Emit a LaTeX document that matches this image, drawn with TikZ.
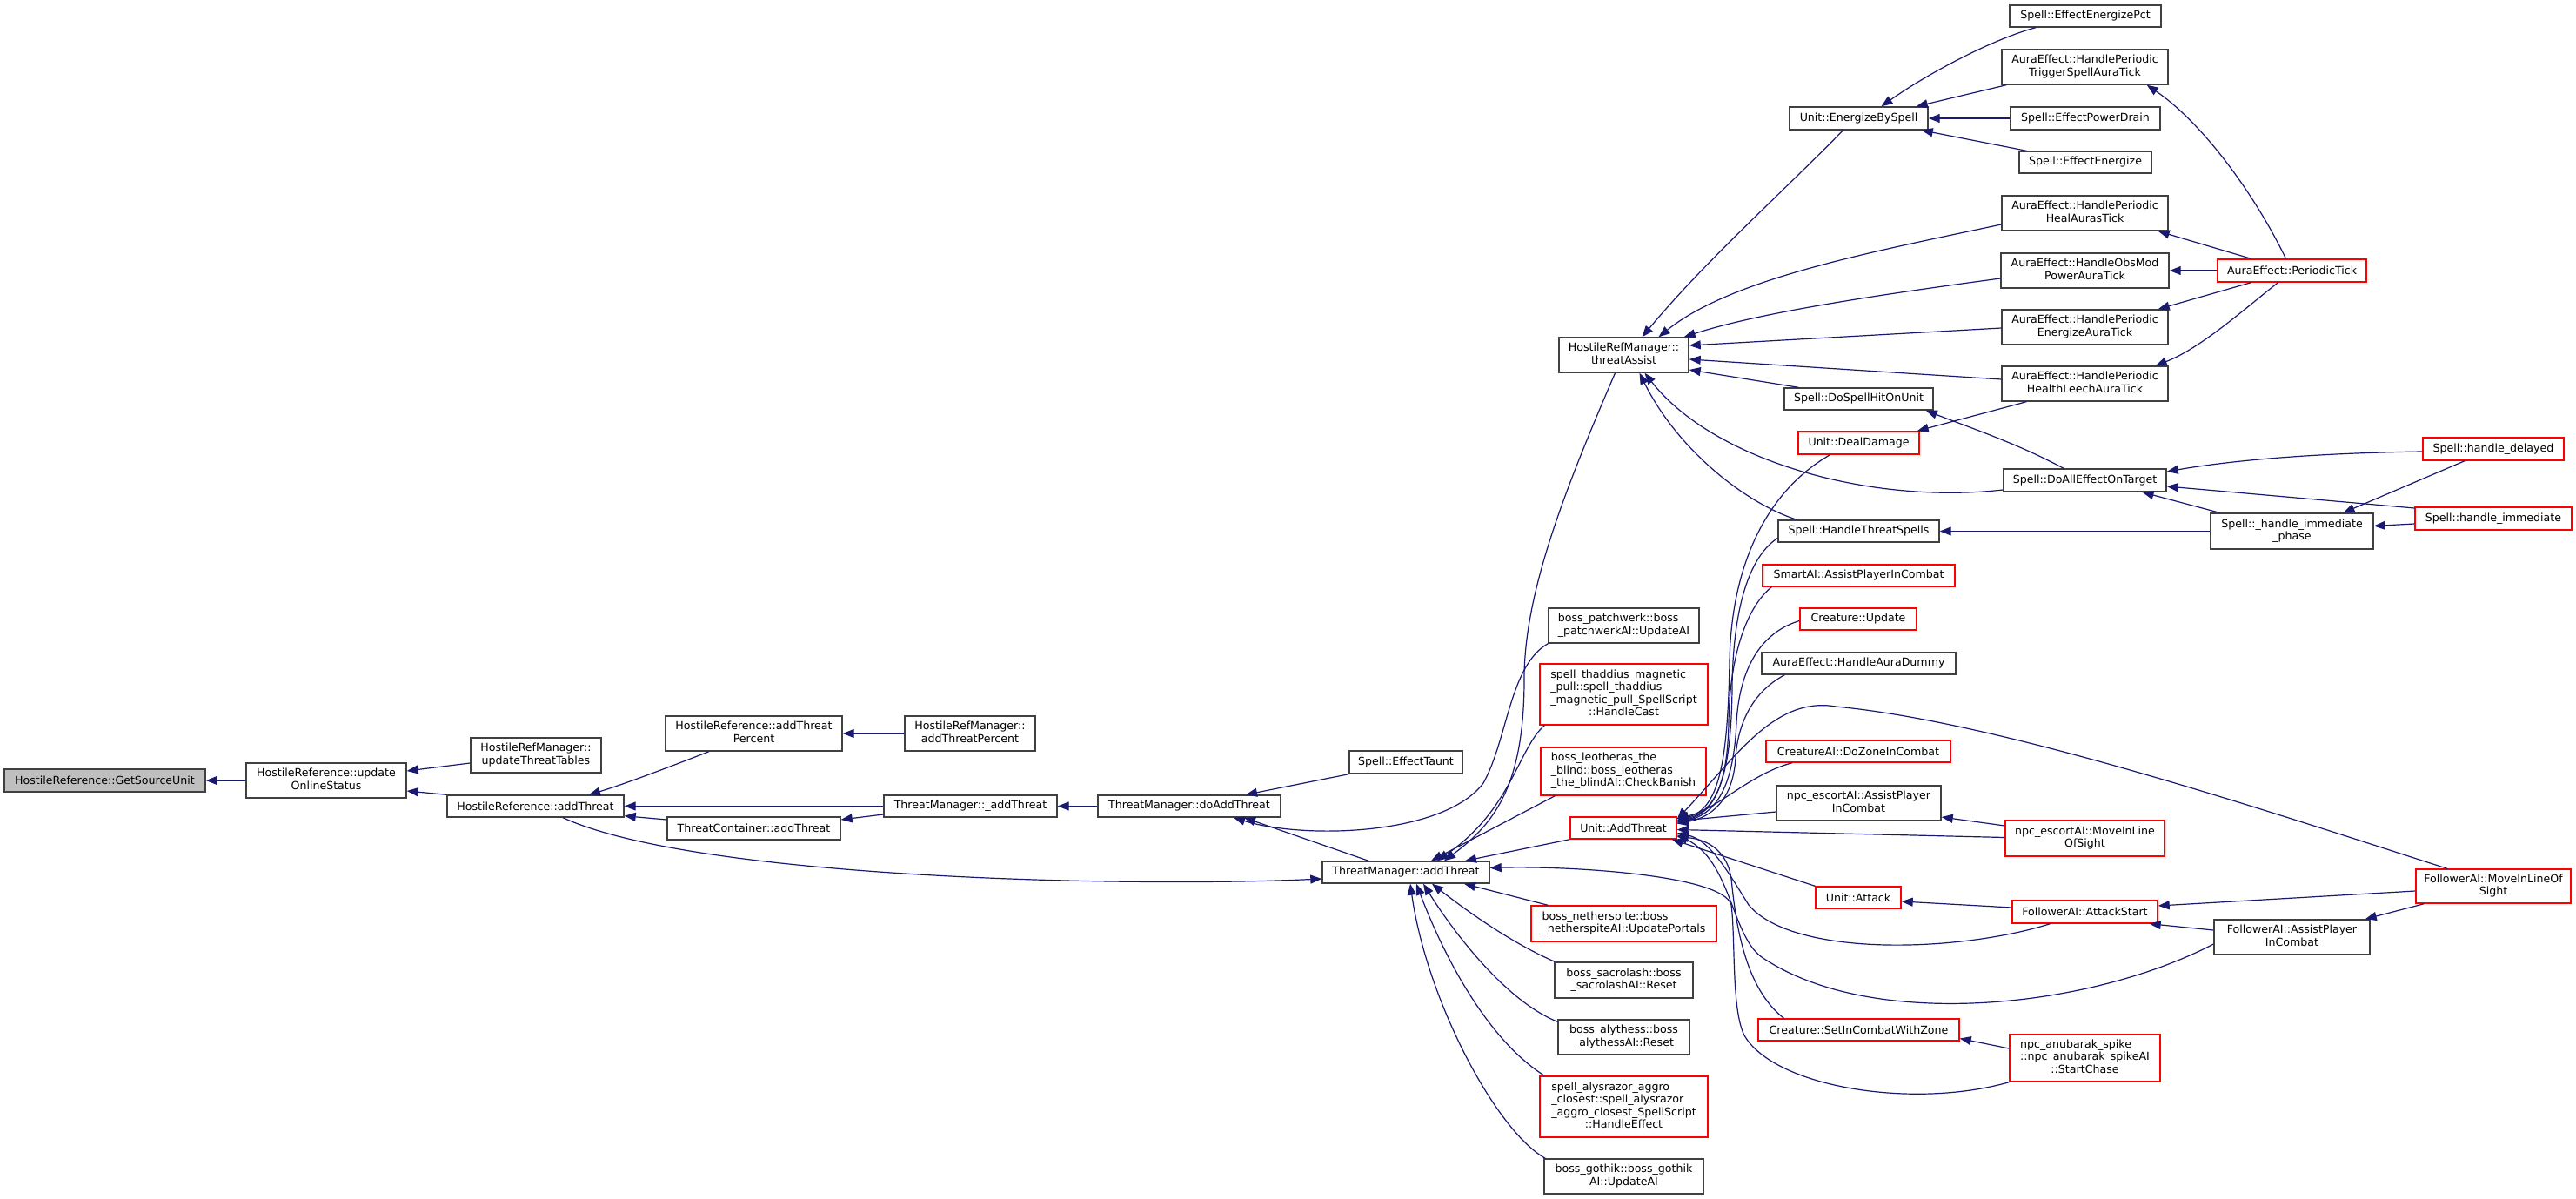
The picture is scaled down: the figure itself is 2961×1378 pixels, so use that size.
\documentclass[tikz,border=0pt]{standalone}
\usepackage{fontspec}
\setmainfont{DejaVu Sans}
\usetikzlibrary{arrows.meta}
\definecolor{edgec}{HTML}{191970}
\definecolor{bordc}{HTML}{404040}
\definecolor{gsufill}{HTML}{BFBFBF}
\newcommand\ml[2]{\begin{tabular}{@{}l@{}}#1\\\multicolumn{1}{@{}c@{}}{#2}\end{tabular}}
\begin{document}
\begin{tikzpicture}[x=1pt,y=-1pt,
 bx/.style={draw=bordc, line width=1.4pt, inner sep=0pt, font=\fontsize{12.6}{14.5}\selectfont},
 rx/.style={bx, draw=red},
 sz/.style 2 args={minimum width=#1pt, minimum height=#2pt},
 edge/.style={draw=edgec, line width=1.2pt, -{Triangle[length=13pt,width=10pt]}}]
\fill[white] (0,0) rectangle (2961,1378);
\useasboundingbox (0,0) rectangle (2961,1378);
% left part
\node[bx, fill=gsufill, sz={231}{26}] (gsu) at (120.5,897) {HostileReference::GetSourceUnit};
\node[bx, sz={184}{40}] (uos) at (375,897) {\ml{HostileReference::update}{OnlineStatus}};
\node[bx, sz={150}{40}] (utt) at (616,868) {\ml{HostileRefManager::}{updateThreatTables}};
\node[bx, sz={203}{25}] (hrat) at (615.5,926.5) {HostileReference::addThreat};
\node[bx, sz={203}{40}] (hratp) at (866.5,843) {\ml{HostileReference::addThreat}{Percent}};
\node[bx, sz={199}{26}] (tcat) at (866.5,952) {ThreatContainer::addThreat};
\node[bx, sz={150}{40}] (hrmatp) at (1115,843) {\ml{HostileRefManager::}{addThreatPercent}};
\node[bx, sz={199}{25}] (tmu) at (1115.5,926.5) {ThreatManager::\_addThreat};
\node[bx, sz={210}{25}] (tmdo) at (1367,926.5) {ThreatManager::doAddThreat};
\node[bx, sz={192}{25}] (tmat) at (1616,1002.5) {ThreatManager::addThreat};
\node[bx, sz={130}{26}] (taunt) at (1616,876) {Spell::EffectTaunt};
% middle column
\node[bx, sz={149}{40}] (ta) at (1866.5,408) {\ml{HostileRefManager::}{threatAssist}};
\node[bx, sz={173}{40}] (patch) at (1866.5,719) {\ml{boss\_patchwerk::boss}{\_patchwerkAI::UpdateAI}};
\node[rx, sz={193}{70}] (thad) at (1866.5,798) {\ml{spell\_thaddius\_magnetic\\\_pull::spell\_thaddius\\\_magnetic\_pull\_SpellScript}{::HandleCast}};
\node[rx, sz={190}{55}] (leo) at (1866,886.5) {\ml{boss\_leotheras\_the\\\_blind::boss\_leotheras}{\_the\_blindAI::CheckBanish}};
\node[rx, sz={122}{25}] (uat) at (1866,951.5) {Unit::AddThreat};
\node[rx, sz={213}{41}] (neth) at (1866.5,1061.5) {\ml{boss\_netherspite::boss}{\_netherspiteAI::UpdatePortals}};
\node[bx, sz={159}{41}] (sacro) at (1866.5,1126.5) {\ml{boss\_sacrolash::boss}{\_sacrolashAI::Reset}};
\node[bx, sz={151}{40}] (aly) at (1866.5,1192) {\ml{boss\_alythess::boss}{\_alythessAI::Reset}};
\node[rx, sz={193}{70}] (alys) at (1866.5,1272) {\ml{spell\_alysrazor\_aggro\\\_closest::spell\_alysrazor\\\_aggro\_closest\_SpellScript}{::HandleEffect}};
\node[bx, sz={183}{40}] (goth) at (1866.5,1352) {\ml{boss\_gothik::boss\_gothik}{AI::UpdateAI}};
% right part
\node[bx, sz={159}{26}] (eb) at (2136.5,136) {Unit::EnergizeBySpell};
\node[bx, sz={174}{25}] (eep) at (2397,18.5) {Spell::EffectEnergizePct};
\node[bx, sz={191}{40}] (trig) at (2396.5,77) {\ml{AuraEffect::HandlePeriodic}{TriggerSpellAuraTick}};
\node[bx, sz={172}{26}] (epd) at (2397,136) {Spell::EffectPowerDrain};
\node[bx, sz={152}{25}] (ee) at (2397,186.5) {Spell::EffectEnergize};
\node[bx, sz={191}{40}] (heal) at (2396.5,245) {\ml{AuraEffect::HandlePeriodic}{HealAurasTick}};
\node[bx, sz={193}{40}] (obs) at (2396.5,311) {\ml{AuraEffect::HandleObsMod}{PowerAuraTick}};
\node[bx, sz={191}{40}] (ener) at (2396.5,376) {\ml{AuraEffect::HandlePeriodic}{EnergizeAuraTick}};
\node[bx, sz={191}{40}] (leech) at (2396.5,441) {\ml{AuraEffect::HandlePeriodic}{HealthLeechAuraTick}};
\node[bx, sz={171}{25}] (hit) at (2136.5,458.5) {Spell::DoSpellHitOnUnit};
\node[rx, sz={139}{26}] (dd) at (2136.5,509) {Unit::DealDamage};
\node[bx, sz={187}{26}] (doall) at (2396.5,552) {Spell::DoAllEffectOnTarget};
\node[bx, sz={185}{25}] (hts) at (2136.5,610.5) {Spell::HandleThreatSpells};
\node[rx, sz={221}{25}] (smart) at (2136.5,661.5) {SmartAI::AssistPlayerInCombat};
\node[rx, sz={134}{25}] (cupd) at (2136,711.5) {Creature::Update};
\node[bx, sz={223}{25}] (dummy) at (2136.5,762.5) {AuraEffect::HandleAuraDummy};
\node[rx, sz={212}{25}] (dzic) at (2136,863.5) {CreatureAI::DoZoneInCombat};
\node[bx, sz={189}{40}] (escap) at (2136.5,923) {\ml{npc\_escortAI::AssistPlayer}{InCombat}};
\node[rx, sz={183}{41}] (esmlos) at (2396.5,963.5) {\ml{npc\_escortAI::MoveInLine}{OfSight}};
\node[rx, sz={98}{25}] (attack) at (2136,1031.5) {Unit::Attack};
\node[rx, sz={167}{26}] (fas) at (2396.5,1048) {FollowerAI::AttackStart};
\node[rx, sz={231}{25}] (sicz) at (2136.5,1183.5) {Creature::SetInCombatWithZone};
\node[rx, sz={173}{54}] (anub) at (2396.5,1216) {\ml{npc\_anubarak\_spike\\::npc\_anubarak\_spikeAI}{::StartChase}};
\node[rx, sz={171}{26}] (ptick) at (2634.5,311) {AuraEffect::PeriodicTick};
\node[bx, sz={187}{41}] (hiph) at (2634.5,610.5) {\ml{Spell::\_handle\_immediate}{\_phase}};
\node[bx, sz={179}{40}] (fapic) at (2634.5,1077) {\ml{FollowerAI::AssistPlayer}{InCombat}};
\node[rx, sz={162}{26}] (hdel) at (2866,516) {Spell::handle\_delayed};
\node[rx, sz={180}{26}] (himm) at (2866,596) {Spell::handle\_immediate};
\node[rx, sz={178}{39}] (fmlos) at (2866,1018.5) {\ml{FollowerAI::MoveInLineOf}{Sight}};
% edges, left part
\draw[edge] (uos.west) -- (gsu.east);
\draw[edge] ([yshift=-9pt]utt.west) -- ([yshift=11pt]uos.east);
\draw[edge] (hrat.north west) -- ([yshift=-12pt]uos.east);
\draw[edge] ([xshift=-51.5pt]hratp.south) .. controls (740,893) and (705,905) .. ([xshift=61.5pt]hrat.north);
\draw[edge] (hrmatp.west) -- (hratp.east);
\draw[edge] (tmu.west) -- (hrat.east);
\draw[edge] ([yshift=10pt]tcat.west) -- ([yshift=2pt]hrat.south east);
\draw[edge] ([yshift=-9.5pt]tmu.west) -- ([yshift=10pt]tcat.east);
\draw[edge] ([xshift=31.5pt]hrat.south) .. controls (800,1010) and (1300,1020) .. ([yshift=-7.5pt]tmat.west);
\draw[edge] (tmdo.west) -- (tmu.east);
\draw[edge] (taunt.south west) -- ([xshift=65pt]tmdo.north);
\draw[edge] ([xshift=-43pt]tmat.north) -- ([xshift=63pt]tmdo.south);
\draw[edge] (patch.south west) .. controls (1735,765) and (1733,850) .. (1705,900) .. controls (1660,960) and (1500,965) .. ([xshift=51pt]tmdo.south);
% into ThreatManager::addThreat
\draw[edge] ([xshift=-10pt]ta.south) .. controls (1800,560) and (1752,680) .. (1752,780) .. controls (1752,900) and (1720,945) .. ([xshift=44pt]tmat.north);
\draw[edge] ([xshift=6pt]thad.south west) .. controls (1745,860) and (1738,930) .. ([xshift=36pt]tmat.north);
\draw[edge] ([xshift=17pt]leo.south west) -- ([xshift=29pt]tmat.north);
\draw[edge] (uat.south west) -- ([xshift=68pt]tmat.north);
\draw[edge] (anub.south west) .. controls (2200,1275) and (2040,1250) .. (2005,1190) .. controls (1990,1160) and (1995,1080) .. (1990,1040) .. controls (1980,1005) and (1800,995) .. ([yshift=5pt]tmat.east);
\draw[edge] ([xshift=20pt]neth.north west) -- ([xshift=67pt]tmat.south);
\draw[edge] ([xshift=1pt]sacro.north west) .. controls (1740,1085) and (1690,1050) .. ([xshift=30pt]tmat.south);
\draw[edge] ([yshift=-3pt]aly.north west) .. controls (1730,1150) and (1670,1070) .. ([xshift=20pt]tmat.south);
\draw[edge] ([xshift=6pt]alys.north west) .. controls (1710,1195) and (1660,1100) .. ([xshift=12pt]tmat.south);
\draw[edge] ([xshift=2pt]goth.north west) .. controls (1720,1300) and (1640,1150) .. ([xshift=5pt]tmat.south);
% into Unit::AddThreat
\draw[edge] ([xshift=-33pt]dd.south) .. controls (2030,565) and (1990,650) .. (1988,760) .. controls (1986,880) and (1975,930) .. ([yshift=9pt]uat.east);
\draw[edge] ([yshift=-8pt]hts.west) .. controls (2010,640) and (1992,700) .. (1991,790) .. controls (1990,890) and (1975,932) .. ([yshift=8pt]uat.east);
\draw[edge] ([xshift=11pt]smart.south west) .. controls (2005,700) and (1988,760) .. (1987,830) .. controls (1986,900) and (1970,935) .. ([yshift=7pt]uat.east);
\draw[edge] ([yshift=-2pt]cupd.west) .. controls (2030,725) and (2000,760) .. (1996,830) .. controls (1993,900) and (1975,935) .. ([yshift=6pt]uat.east);
\draw[edge] ([xshift=27pt]dummy.south west) .. controls (2015,795) and (1998,830) .. (1995,870) .. controls (1993,910) and (1975,938) .. ([yshift=5pt]uat.east);
\draw[edge] ([xshift=-53pt]fmlos.north) .. controls (2600,930) and (2300,830) .. (2110,812) .. controls (2040,800) and (1995,870) .. ([yshift=10pt]uat.east);
\draw[edge] ([xshift=-76pt]dzic.south) .. controls (2010,890) and (1975,930) .. ([yshift=11pt]uat.east);
\draw[edge] ([yshift=-10pt]escap.west) -- ([yshift=8pt]uat.east);
\draw[edge] ([yshift=1pt]esmlos.west) -- ([yshift=-2pt]uat.east);
\draw[edge] (attack.north west) -- ([xshift=-6pt]uat.south east);
\draw[edge] ([xshift=-40pt]fas.south) .. controls (2250,1095) and (2060,1100) .. (2010,1040) .. controls (1985,1000) and (1965,965) .. ([yshift=-6pt]uat.east);
\draw[edge] ([yshift=-8pt]fapic.west) .. controls (2400,1160) and (2150,1185) .. (2025,1100) .. controls (1990,1075) and (1990,990) .. ([yshift=-8pt]uat.east);
\draw[edge] ([xshift=-86pt]sicz.north) .. controls (2005,1135) and (1995,1060) .. (1990,1010) .. controls (1986,980) and (1965,965) .. ([yshift=-10pt]uat.east);
% into threatAssist
\draw[edge] ([xshift=-18pt]eb.south) .. controls (2050,220) and (1960,300) .. ([xshift=21pt]ta.north);
\draw[edge] ([yshift=-13pt]heal.west) .. controls (2150,290) and (1990,320) .. ([xshift=40pt]ta.north);
\draw[edge] ([yshift=-9pt]obs.west) .. controls (2150,340) and (2020,360) .. ([xshift=-6pt]ta.north east);
\draw[edge] ([yshift=-1pt]ener.west) -- ([yshift=11pt]ta.east);
\draw[edge] ([yshift=5pt]leech.west) -- ([yshift=-5pt]ta.east);
\draw[edge] ([xshift=17pt]hit.north west) -- ([yshift=-17pt]ta.east);
\draw[edge] ([yshift=-11pt]doall.west) .. controls (2150,580) and (1970,530) .. ([xshift=24pt]ta.south);
\draw[edge] ([xshift=-71pt]hts.north) .. controls (2010,580) and (1930,520) .. ([xshift=18pt]ta.south);
% into Unit::EnergizeBySpell
\draw[edge] ([xshift=-57pt]eep.south) .. controls (2290,45) and (2215,85) .. ([xshift=26pt]eb.north);
\draw[edge] ([xshift=6pt]trig.south west) -- ([xshift=-14pt]eb.north east);
\draw[edge] (epd.west) -- (eb.east);
\draw[edge] ([xshift=9pt]ee.north west) -- ([xshift=-8pt]eb.south east);
% others
\draw[edge] ([xshift=29pt]leech.south west) -- ([xshift=-3pt]dd.north east);
\draw[edge] ([xshift=-24.5pt]doall.north) .. controls (2320,510) and (2260,490) .. ([xshift=-9pt]hit.south east);
\draw[edge] (hiph.west) -- (hts.east);
\draw[edge] ([yshift=-3pt]hdel.west) .. controls (2650,521) and (2560,530) .. ([yshift=10pt]doall.east);
\draw[edge] ([yshift=12pt]himm.west) -- ([yshift=-7pt]doall.east);
\draw[edge] ([xshift=11pt]hiph.north west) -- ([xshift=66pt]doall.south);
\draw[edge] ([xshift=-33pt]hdel.south) -- ([xshift=59pt]hiph.north);
\draw[edge] ([yshift=-6pt]himm.west) -- ([yshift=6pt]hiph.east);
\draw[edge] ([xshift=-7pt]ptick.north) .. controls (2590,220) and (2530,140) .. ([xshift=-25pt]trig.south east);
\draw[edge] ([xshift=-47pt]ptick.north) -- ([xshift=-12pt]heal.south east);
\draw[edge] (ptick.west) -- (obs.east);
\draw[edge] ([xshift=-47pt]ptick.south) -- ([xshift=-12pt]ener.north east);
\draw[edge] ([xshift=-16pt]ptick.south) .. controls (2580,355) and (2530,400) .. ([xshift=-15pt]leech.north east);
\draw[edge] ([yshift=14.5pt]esmlos.west) -- ([yshift=-16pt]escap.east);
\draw[edge] ([yshift=5pt]fas.west) -- ([yshift=-4.5pt]attack.east);
\draw[edge] ([yshift=-5.5pt]fmlos.west) -- ([yshift=7pt]fas.east);
\draw[edge] ([yshift=8pt]fapic.west) -- ([xshift=-10pt]fas.south east);
\draw[edge] ([xshift=10pt]fmlos.south west) -- ([xshift=-6pt]fapic.north east);
\draw[edge] ([yshift=11pt]anub.west) -- ([yshift=-10pt]sicz.east);
\end{tikzpicture}
\end{document}
